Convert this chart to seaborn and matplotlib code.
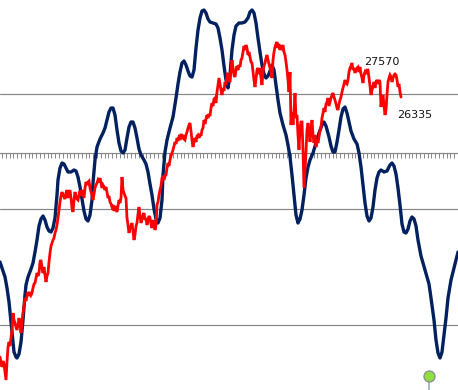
import matplotlib
matplotlib.use("Agg")
import matplotlib.pyplot as plt
import numpy as np
import pandas as pd
import seaborn as sns

# Values, on the chart's own vertical scale (larger = lower on the chart)
navy_x = [0,2,5,7,9,11,13,14,16,17,19,21,23,25,26,28,31,33,35,37,39,41,43,45,47,49,51,53,55,57,58,60,62,64,66,68,71,74,76,78,80,82,84,86,88,90,92,93,95,97,100,103,105,107,109,111,113,115,117,119,121,123,125,127,129,131,133,135,137,139,141,144,146,148,150,152,154,156,158,160,162,163,165,167,170,173,176,178,180,182,184,186,188,190,192,194,196,198,200,202,204,206,208,210,213,216,218,220,222,224,226,228,230,232,234,236,239,242,245,248,250,252,254,256,258,260,262,264,266,268,270,272,274,276,278,280,283,286,288,290,292,294,296,298,300,302,304,306,308,310,313,316,319,322,324,326,329,331,333,335,337,339,341,343,345,347,349,351,354,357,359,361,363,365,367,369,371,373,375,377,379,381,384,387,390,392,394,396,398,400,402,404,406,408,410,412,414,416,418,421,425,429,431,434,436,438,440,442,444,446,448,451,454,458]
navy_y = [262,268,277,288,302,322,343,352,357,358,354,342,320,295,285,277,269,263,252,240,226,219,216,220,227,231,232,228,218,195,180,168,163,164,168,172,172,170,171,177,187,199,211,219,221,215,200,183,160,147,139,133,128,120,112,108,108,115,130,143,151,153,150,138,127,122,122,128,138,149,155,160,164,172,184,195,209,219,223,218,200,175,152,140,128,117,98,84,72,63,61,65,71,76,77,70,48,30,18,11,10,13,19,22,23,24,28,38,50,66,80,88,75,50,35,26,23,23,22,18,12,10,13,23,38,52,65,74,78,76,71,65,70,85,100,113,125,135,145,157,175,195,215,223,219,210,195,178,167,160,153,143,133,125,122,126,137,146,152,152,142,130,117,109,107,113,122,131,139,144,153,167,185,203,216,221,218,207,190,178,172,170,172,171,165,163,166,174,188,205,224,232,233,229,221,217,219,226,240,256,270,284,298,320,340,353,358,352,335,318,298,280,268,252]
red_y = [357,362,367,361,364,372,380,362,347,342,
         346,338,330,313,320,323,327,330,325,318,
         324,333,322,313,306,298,301,296,292,296,
         292,295,293,288,284,283,278,273,276,273,
         262,260,268,273,267,275,282,276,273,262,
         253,246,243,240,238,233,230,225,218,210,
         202,196,192,195,197,199,193,190,198,194,
         190,198,208,212,200,192,196,199,200,195,
         191,196,190,194,198,188,182,185,182,181,
         188,192,195,200,194,188,185,183,180,182,
         178,183,188,185,187,190,187,192,198,196,
         202,204,207,205,211,206,209,212,206,200,
         203,198,177,190,193,196,198,218,225,233,
         228,226,223,232,240,235,226,223,214,207,
         216,223,219,215,213,220,218,225,220,216,
         218,224,228,220,224,230,225,205,202,195,
         190,186,178,177,180,176,175,168,163,166,
         160,156,153,150,146,142,144,138,141,137,
         138,134,137,135,139,140,135,132,128,125,
         123,131,140,147,142,138,142,136,135,138,
         134,136,130,128,120,124,119,115,118,114,
         116,108,103,106,99,98,103,92,85,78,
         84,90,95,88,91,82,85,75,73,80,
         82,70,60,68,75,77,70,66,70,65,
         67,60,58,52,46,50,45,48,55,52,
         57,62,63,72,80,87,78,70,68,74,
         68,78,85,72,66,63,58,55,60,64,
         68,72,78,60,52,47,44,42,48,44,
         50,46,48,45,52,55,62,70,80,92,
         72,125,112,125,112,93,118,115,135,150,
         128,122,122,150,188,170,152,130,123,130,
         142,130,120,135,143,135,147,140,143,137,
         130,127,118,113,108,112,104,102,98,106,
         102,98,95,93,97,100,104,108,110,104,
         100,97,92,88,84,80,83,84,80,72,
         68,66,63,70,68,73,70,68,67,72,
         67,74,78,83,75,72,74,70,70,78,
         86,95,90,86,82,88,82,80,84,80,
         82,107,100,95,105,115,110,95,82,78,
         75,77,82,78,75,74,75,80,87,84,92,97]
grid_levels = [94, 209, 325]
tick_level = 153
high_label = "27570"
low_label = "26335"
pin_x = [429]
pin_y = [376]

sns.set_theme(style="white")
plt.rcParams["font.family"] = ["DejaVu Sans"]

navy = pd.DataFrame({"x": navy_x, "y": navy_y})
red = pd.DataFrame({"x": np.arange(len(red_y)), "y": red_y})

fig = plt.figure(figsize=(4.58, 3.90), dpi=100, facecolor="white")
ax = fig.add_axes([0, 0, 1, 1], facecolor="white")
ax.set_xlim(0, 458)
ax.set_ylim(390, 0)

ax.set_yticks(grid_levels)
ax.yaxis.grid(True, color="#858585", linewidth=0.85)
ax.tick_params(axis="y", length=0, labelleft=False)
ax.set_axisbelow(True)

for name in ["top", "left", "right"]:
    ax.spines[name].set_visible(False)
ax.spines["bottom"].set_position(("data", tick_level))
ax.spines["bottom"].set_color("#858585")
ax.spines["bottom"].set_linewidth(0.85)
ax.set_xticks(np.arange(2, 458, 3.8))
ax.tick_params(axis="x", direction="out", length=3.6, width=0.72, color="#8a8a8a",
               labelbottom=False, bottom=True)

sns.lineplot(data=navy, x="x", y="y", ax=ax, color="#002060", linewidth=2.4,
             estimator=None, sort=False, solid_joinstyle="round", zorder=3)
sns.lineplot(data=red, x="x", y="y", ax=ax, color="#ff0000", linewidth=2.0,
             estimator=None, sort=False, solid_joinstyle="miter", zorder=4)
ax.set_xlabel("")
ax.set_ylabel("")
ax.set_xlim(0, 458)
ax.set_ylim(390, 0)

ax.text(364, 62, high_label, fontsize=8, color="#111111", va="center", ha="left", zorder=5)
ax.text(397, 115, low_label, fontsize=8, color="#111111", va="center", ha="left", zorder=5)

ax.vlines(pin_x, pin_y, 390, color="#9fb4c8", linewidth=1.3, zorder=5)
sns.scatterplot(x=pin_x, y=pin_y, ax=ax, s=62, color="#90e040", edgecolor="#909090",
                linewidth=1.0, zorder=6, legend=False)
ax.set_xlabel("")
ax.set_ylabel("")

fig.savefig("out.png", dpi=100)
